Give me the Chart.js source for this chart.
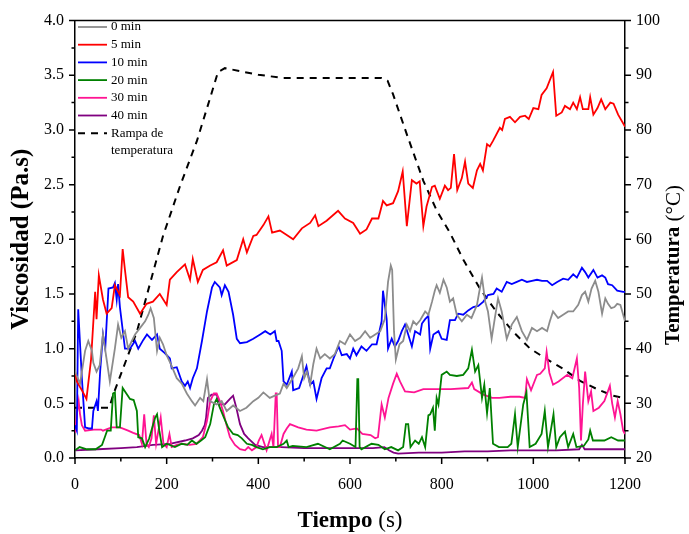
<!DOCTYPE html>
<html>
<head>
<meta charset="utf-8">
<script src="https://cdn.jsdelivr.net/npm/chart.js@4.4.1/dist/chart.umd.min.js"></script>
<style>
  body { margin: 0; background: #fff; }
  canvas { display: block; }
</style>
</head>
<body>
<canvas id="chartVisc" width="689" height="534"></canvas>
<script>
// tiempo (s) y viscosidad (Pa.s)
const t0 = [0, 4, 11, 22, 29, 37, 40, 47, 54, 61, 67, 76, 83, 87, 94, 101, 109, 116, 124, 131, 142, 153, 160, 165, 172, 179, 185, 192, 200, 211, 222, 233, 244, 255, 262, 273, 280, 288, 294, 309, 320, 331, 345, 360, 374, 389, 400, 411, 425, 436, 447, 455, 462, 475, 487, 495, 500, 506, 513, 520, 527, 535, 545, 556, 567, 578, 589, 600, 611, 622, 633, 644, 655, 666, 676, 683, 689, 692, 696, 700, 708, 716, 724, 731, 738, 745, 753, 764, 771, 779, 785, 789, 796, 804, 811, 818, 825, 833, 844, 855, 865, 877, 882, 888, 895, 901, 909, 916, 923, 931, 942, 953, 964, 975, 986, 997, 1008, 1019, 1030, 1036, 1043, 1054, 1065, 1076, 1087, 1098, 1106, 1113, 1120, 1127, 1135, 1142, 1150, 1157, 1163, 1170, 1177, 1183, 1190, 1200]
const v0 = [0.80, 0.75, 0.68, 0.98, 1.07, 0.98, 0.87, 0.79, 0.85, 1.13, 0.96, 0.70, 0.89, 1.00, 1.22, 1.10, 1.16, 1.00, 1.07, 1.13, 1.19, 1.25, 1.31, 1.37, 1.28, 0.98, 1.10, 1.04, 0.94, 0.84, 0.73, 0.68, 0.59, 0.52, 0.48, 0.55, 0.52, 0.72, 0.52, 0.49, 0.52, 0.43, 0.48, 0.43, 0.46, 0.52, 0.55, 0.60, 0.55, 0.57, 0.59, 0.68, 0.64, 0.73, 0.82, 0.93, 0.73, 0.79, 0.67, 0.86, 1.00, 0.91, 0.95, 0.91, 0.95, 1.07, 1.04, 1.13, 1.07, 1.10, 1.16, 1.10, 1.13, 1.16, 1.27, 1.61, 1.76, 1.72, 1.16, 0.90, 1.04, 1.07, 1.22, 1.16, 1.25, 1.22, 1.26, 1.34, 1.31, 1.43, 1.53, 1.58, 1.51, 1.63, 1.56, 1.43, 1.46, 1.31, 1.25, 1.31, 1.28, 1.40, 1.52, 1.65, 1.43, 1.34, 1.09, 1.28, 1.46, 1.34, 1.09, 1.22, 1.29, 1.16, 1.08, 1.19, 1.16, 1.19, 1.16, 1.25, 1.34, 1.28, 1.31, 1.34, 1.34, 1.40, 1.49, 1.52, 1.43, 1.55, 1.62, 1.52, 1.32, 1.46, 1.41, 1.37, 1.38, 1.41, 1.40, 1.25]

const t5 = [0, 4, 15, 25, 35, 44, 47, 52, 61, 69, 80, 87, 98, 104, 109, 116, 127, 142, 156, 170, 185, 200, 207, 222, 240, 251, 257, 268, 279, 295, 309, 323, 331, 353, 367, 375, 389, 396, 411, 422, 430, 447, 462, 476, 495, 513, 524, 531, 549, 574, 589, 607, 622, 636, 648, 662, 672, 680, 694, 705, 715, 724, 735, 745, 752, 760, 767, 779, 785, 796, 807, 814, 820, 827, 834, 844, 851, 858, 868, 877, 884, 890, 899, 905, 912, 927, 932, 938, 949, 960, 971, 982, 990, 1000, 1011, 1018, 1029, 1043, 1050, 1062, 1069, 1080, 1087, 1095, 1102, 1108, 1120, 1124, 1131, 1140, 1148, 1157, 1168, 1175, 1185, 1200]
const v5 = [0.78, 0.70, 0.62, 0.54, 0.90, 1.52, 1.27, 1.67, 1.45, 1.32, 1.37, 1.58, 1.49, 1.91, 1.72, 1.47, 1.43, 1.32, 1.41, 1.43, 1.50, 1.40, 1.63, 1.70, 1.77, 1.63, 1.82, 1.61, 1.72, 1.76, 1.79, 1.90, 1.76, 1.81, 2.00, 1.88, 2.03, 2.04, 2.13, 2.21, 2.06, 2.08, 2.04, 2.00, 2.10, 2.15, 2.22, 2.12, 2.17, 2.26, 2.19, 2.15, 2.05, 2.09, 2.19, 2.19, 2.35, 2.31, 2.33, 2.44, 2.62, 2.12, 2.54, 2.51, 2.53, 2.12, 2.30, 2.48, 2.49, 2.37, 2.49, 2.45, 2.47, 2.78, 2.45, 2.56, 2.71, 2.51, 2.47, 2.63, 2.69, 2.63, 2.87, 2.85, 2.90, 3.02, 3.00, 3.10, 3.12, 3.07, 3.12, 3.13, 3.10, 3.20, 3.19, 3.32, 3.38, 3.53, 3.13, 3.16, 3.22, 3.19, 3.25, 3.19, 3.30, 3.19, 3.19, 3.30, 3.14, 3.20, 3.28, 3.19, 3.25, 3.24, 3.14, 3.03]

const t10 = [0, 4, 7, 15, 22, 30, 37, 40, 47, 50, 55, 61, 66, 73, 83, 87, 91, 94, 98, 109, 120, 131, 138, 149, 157, 168, 179, 185, 196, 207, 211, 222, 233, 240, 246, 251, 257, 266, 277, 288, 299, 305, 316, 320, 327, 335, 345, 353, 360, 375, 389, 404, 415, 426, 436, 440, 444, 451, 455, 462, 473, 476, 489, 505, 513, 520, 527, 538, 549, 556, 564, 575, 582, 593, 600, 607, 614, 625, 636, 648, 658, 669, 672, 680, 683, 691, 698, 705, 713, 720, 727, 735, 742, 753, 757, 764, 771, 775, 782, 793, 800, 811, 818, 829, 836, 847, 858, 869, 880, 891, 901, 913, 920, 931, 942, 953, 964, 975, 986, 997, 1008, 1019, 1030, 1041, 1052, 1065, 1076, 1087, 1095, 1106, 1113, 1120, 1131, 1140, 1150, 1157, 1163, 1172, 1183, 1196, 1200]
const v10 = [0.30, 0.25, 1.36, 0.73, 0.28, 0.27, 0.27, 0.43, 0.52, 0.43, 0.80, 1.13, 1.00, 1.55, 1.56, 1.60, 1.45, 1.59, 1.38, 1.00, 1.00, 1.07, 1.00, 1.08, 1.13, 1.08, 1.13, 1.00, 0.96, 0.91, 0.82, 0.83, 0.70, 0.66, 0.70, 0.64, 0.73, 0.82, 1.07, 1.34, 1.56, 1.61, 1.56, 1.49, 1.58, 1.52, 1.31, 1.09, 1.05, 1.06, 1.09, 1.13, 1.16, 1.13, 1.16, 1.07, 1.07, 0.98, 0.70, 0.67, 0.79, 0.62, 0.64, 0.84, 0.67, 0.70, 0.54, 0.73, 0.82, 0.82, 0.91, 1.02, 0.94, 0.95, 0.91, 1.00, 0.94, 1.02, 0.98, 1.04, 1.04, 1.25, 1.53, 1.27, 1.00, 1.09, 1.02, 1.07, 1.16, 1.22, 1.13, 1.02, 1.16, 1.13, 1.23, 1.27, 1.30, 1.00, 1.13, 1.16, 1.09, 1.08, 1.26, 1.26, 1.32, 1.31, 1.35, 1.38, 1.39, 1.43, 1.49, 1.50, 1.55, 1.52, 1.61, 1.59, 1.61, 1.63, 1.61, 1.62, 1.63, 1.62, 1.62, 1.58, 1.61, 1.64, 1.63, 1.68, 1.65, 1.74, 1.70, 1.65, 1.72, 1.65, 1.67, 1.65, 1.59, 1.58, 1.53, 1.52, 1.52]

const t20 = [0, 10, 26, 45, 59, 65, 70, 78, 83, 87, 91, 98, 104, 112, 120, 128, 135, 138, 146, 153, 162, 170, 175, 179, 184, 190, 200, 218, 233, 245, 255, 265, 275, 284, 295, 303, 309, 316, 325, 334, 345, 355, 364, 375, 386, 396, 410, 425, 440, 455, 462, 466, 475, 505, 530, 556, 578, 584, 600, 612, 616, 618, 621, 625, 647, 662, 676, 690, 705, 716, 722, 727, 732, 742, 750, 757, 764, 771, 775, 781, 785, 789, 793, 800, 811, 818, 833, 847, 858, 866, 873, 880, 888, 893, 899, 905, 912, 925, 944, 952, 960, 966, 978, 985, 992, 1005, 1018, 1025, 1032, 1044, 1050, 1058, 1069, 1076, 1087, 1094, 1110, 1120, 1124, 1130, 1155, 1170, 1185, 1200]
const v20 = [0.07, 0.10, 0.08, 0.08, 0.12, 0.19, 0.25, 0.25, 0.59, 0.60, 0.28, 0.28, 0.64, 0.59, 0.54, 0.53, 0.43, 0.19, 0.18, 0.10, 0.18, 0.30, 0.37, 0.40, 0.25, 0.10, 0.13, 0.10, 0.13, 0.12, 0.16, 0.13, 0.16, 0.19, 0.31, 0.49, 0.54, 0.46, 0.37, 0.28, 0.22, 0.21, 0.18, 0.13, 0.12, 0.10, 0.08, 0.10, 0.10, 0.13, 0.16, 0.10, 0.11, 0.10, 0.13, 0.08, 0.13, 0.16, 0.13, 0.10, 0.72, 0.72, 0.10, 0.08, 0.13, 0.12, 0.08, 0.10, 0.07, 0.10, 0.31, 0.31, 0.10, 0.16, 0.13, 0.19, 0.10, 0.39, 0.40, 0.46, 0.25, 0.55, 0.49, 0.76, 0.79, 0.76, 0.75, 0.76, 0.82, 0.99, 0.79, 0.85, 0.55, 0.67, 0.41, 0.64, 0.13, 0.10, 0.10, 0.13, 0.40, 0.10, 0.49, 0.60, 0.10, 0.13, 0.22, 0.43, 0.10, 0.40, 0.10, 0.19, 0.24, 0.10, 0.22, 0.10, 0.11, 0.17, 0.25, 0.16, 0.16, 0.19, 0.16, 0.16]

const t30 = [0, 4, 8, 11, 15, 22, 41, 57, 61, 80, 98, 116, 127, 140, 146, 151, 156, 161, 167, 172, 177, 182, 187, 193, 200, 206, 211, 222, 233, 250, 265, 279, 288, 295, 303, 309, 316, 323, 330, 338, 349, 360, 371, 378, 386, 396, 401, 407, 418, 429, 433, 438, 440, 443, 447, 455, 462, 469, 487, 505, 527, 556, 575, 589, 600, 615, 627, 645, 655, 661, 669, 676, 684, 694, 702, 709, 720, 740, 760, 789, 820, 858, 866, 871, 891, 910, 926, 950, 970, 982, 986, 995, 1008, 1015, 1025, 1029, 1035, 1043, 1055, 1074, 1085, 1095, 1100, 1104, 1108, 1113, 1120, 1126, 1131, 1143, 1155, 1167, 1172, 1178, 1184, 1190, 1196, 1200]
const v30 = [0.23, 0.40, 0.52, 0.40, 0.30, 0.25, 0.26, 0.26, 0.25, 0.28, 0.28, 0.25, 0.23, 0.21, 0.13, 0.40, 0.13, 0.10, 0.18, 0.39, 0.13, 0.25, 0.37, 0.13, 0.10, 0.22, 0.10, 0.12, 0.13, 0.12, 0.13, 0.19, 0.34, 0.52, 0.59, 0.59, 0.52, 0.43, 0.31, 0.19, 0.12, 0.08, 0.07, 0.10, 0.07, 0.10, 0.16, 0.21, 0.07, 0.22, 0.10, 0.59, 0.59, 0.10, 0.10, 0.22, 0.27, 0.31, 0.28, 0.26, 0.25, 0.28, 0.29, 0.30, 0.26, 0.27, 0.22, 0.21, 0.18, 0.19, 0.49, 0.37, 0.55, 0.68, 0.77, 0.70, 0.61, 0.60, 0.63, 0.63, 0.63, 0.64, 0.69, 0.63, 0.58, 0.55, 0.55, 0.56, 0.56, 0.55, 0.72, 0.62, 0.76, 0.77, 0.82, 0.97, 0.78, 0.67, 0.70, 0.76, 0.73, 0.91, 0.64, 0.16, 0.49, 0.79, 0.52, 0.61, 0.43, 0.46, 0.52, 0.66, 0.50, 0.37, 0.52, 0.40, 0.25, 0.22]

const t40 = [0, 50, 100, 135, 170, 207, 240, 257, 270, 277, 283, 286, 290, 298, 309, 316, 327, 338, 345, 352, 360, 369, 378, 393, 410, 450, 500, 550, 600, 650, 675, 685, 695, 705, 750, 800, 850, 900, 950, 1000, 1050, 1100, 1106, 1112, 1150, 1200]
const v40 = [0.07, 0.08, 0.09, 0.10, 0.12, 0.13, 0.16, 0.18, 0.21, 0.25, 0.30, 0.37, 0.55, 0.58, 0.58, 0.49, 0.49, 0.54, 0.57, 0.46, 0.31, 0.22, 0.18, 0.12, 0.10, 0.10, 0.09, 0.09, 0.09, 0.09, 0.10, 0.07, 0.05, 0.04, 0.05, 0.05, 0.06, 0.06, 0.07, 0.07, 0.07, 0.08, 0.12, 0.08, 0.08, 0.08]

// rampa de temperatura (°C, eje derecho)
const tRampa = [0, 75, 83, 135, 192, 229, 266, 295, 312, 327, 400, 454, 669, 682, 694, 724, 760, 789, 818, 847, 884, 920, 956, 993, 1029, 1065, 1102, 1139, 1174, 1200]
const vRampa = [29.2, 29.2, 31.5, 43.1, 60.6, 69.7, 78.0, 85.9, 90.6, 91.3, 90.1, 89.5, 89.5, 89.0, 86.5, 79.2, 70.7, 65.3, 61.2, 56.3, 50.9, 46.7, 43.1, 40.0, 38.1, 36.3, 34.1, 32.6, 31.4, 30.9]

const etiquetas = ["0 min", "5 min", "10 min", "20 min", "30 min", "40 min", "Rampa de\ntemperatura"]
const colores = ["#8c8c8c", "#ff0000", "#0000ff", "#008000", "#ff1493", "#800080", "#000000"]

const FUENTE = "'Liberation Serif', 'Times New Roman', serif"

function puntos(ts, vs) {
    return ts.map((t, i) => ({ x: t, y: vs[i] }))
}

let series = [[t0, v0], [t5, v5], [t10, v10], [t20, v20], [t30, v30], [t40, v40]]
let datasets = series.map((s, i) => ({
    label: etiquetas[i],
    data: puntos(s[0], s[1]),
    borderColor: colores[i],
    borderWidth: 1.8,
    yAxisID: 'y'
}))
datasets.push({
    label: etiquetas[6],
    data: puntos(tRampa, vRampa),
    borderColor: colores[6],
    borderWidth: 2,
    borderDash: [7, 6],
    yAxisID: 'y2'
})

// marcas de los ejes, leyenda y titulos
const extras = {
    id: 'extras',
    afterDraw(chart) {
        const ctx = chart.ctx
        const a = chart.chartArea
        const sx = chart.scales.x, sy = chart.scales.y, sy2 = chart.scales.y2
        ctx.save()
        ctx.strokeStyle = '#000'
        ctx.lineWidth = 1.5
        ctx.beginPath()
        ctx.moveTo(a.left, a.top)
        ctx.lineTo(a.right, a.top)
        ctx.stroke()

        ctx.beginPath()
        for (let v = 0; v <= 1200; v += 100) {
            let p = sx.getPixelForValue(v)
            let l = v % 200 == 0 ? 6 : 3.5
            ctx.moveTo(p, a.bottom); ctx.lineTo(p, a.bottom + l)
        }
        for (let v = 0; v <= 4; v += 0.25) {
            let p = sy.getPixelForValue(v)
            let l = Math.round(v * 4) % 2 == 0 ? 6 : 3.5
            ctx.moveTo(a.left, p); ctx.lineTo(a.left - l, p)
        }
        for (let v = 20; v <= 100; v += 5) {
            let p = sy2.getPixelForValue(v)
            let l = v % 10 == 0 ? 6 : 3.5
            ctx.moveTo(a.right, p); ctx.lineTo(a.right + l, p)
        }
        ctx.stroke()

        // leyenda
        ctx.font = "13px " + FUENTE
        ctx.textBaseline = 'middle'
        ctx.fillStyle = '#000'
        let y = 27
        chart.data.datasets.forEach(ds => {
            ctx.beginPath()
            ctx.strokeStyle = ds.borderColor
            ctx.lineWidth = ds.borderWidth
            ctx.setLineDash(ds.borderDash || [])
            ctx.moveTo(78, y); ctx.lineTo(107, y)
            ctx.stroke()
            ctx.setLineDash([])
            ds.label.split("\n").forEach(linea => {
                ctx.fillText(linea, 111, y)
                y += 17.7
            })
        })

        dibujarTitulo(ctx, [["Tiempo", true], [" (s)", false]], (a.left + a.right) / 2, 521, 0, 23)
        dibujarTitulo(ctx, [["Viscosidad (Pa.s)", true]], 22, (a.top + a.bottom) / 2, -Math.PI / 2, 25)
        dibujarTitulo(ctx, [["Temperatura", true], [" (°C)", false]], 674, 265, -Math.PI / 2, 21)
        ctx.restore()
    }
}

function dibujarTitulo(ctx, partes, x, y, rot, tam) {
    ctx.save()
    ctx.translate(x, y)
    ctx.rotate(rot)
    ctx.textBaseline = 'middle'
    ctx.fillStyle = '#000'
    let total = 0
    partes.forEach(p => {
        ctx.font = (p[1] ? "bold " : "") + tam + "px " + FUENTE
        total += ctx.measureText(p[0]).width
    })
    let pos = -total / 2
    partes.forEach(p => {
        ctx.font = (p[1] ? "bold " : "") + tam + "px " + FUENTE
        ctx.fillText(p[0], pos, 0)
        pos += ctx.measureText(p[0]).width
    })
    ctx.restore()
}

const fuenteTicks = { family: FUENTE, size: 16 }

new Chart(document.getElementById('chartVisc'), {
    type: 'line',
    data: { datasets: datasets },
    options: {
        responsive: false,
        animation: false,
        layout: { padding: { top: 15, left: 0, right: 0, bottom: 0 } },
        elements: { point: { radius: 0 }, line: { tension: 0 } },
        plugins: { legend: { display: false }, tooltip: { enabled: false } },
        scales: {
            x: {
                type: 'linear', min: 0, max: 1200,
                ticks: { stepSize: 200, font: fuenteTicks, color: '#000', padding: 17, maxRotation: 0, callback: v => String(v) },
                grid: { display: false, drawTicks: false },
                border: { display: true, color: '#000', width: 1.5 },
                afterFit: s => { s.height = 76 }
            },
            y: {
                position: 'left', min: 0, max: 4,
                ticks: { stepSize: 0.5, font: fuenteTicks, color: '#000', padding: 11, callback: v => v.toFixed(1) },
                grid: { display: false, drawTicks: false },
                border: { display: true, color: '#000', width: 1.5 },
                afterFit: s => { s.width = 75 }
            },
            y2: {
                position: 'right', min: 20, max: 100,
                ticks: { stepSize: 10, font: fuenteTicks, color: '#000', padding: 11 },
                grid: { display: false, drawTicks: false },
                border: { display: true, color: '#000', width: 1.5 },
                afterFit: s => { s.width = 64 }
            }
        }
    },
    plugins: [extras]
})
</script>
</body>
</html>
